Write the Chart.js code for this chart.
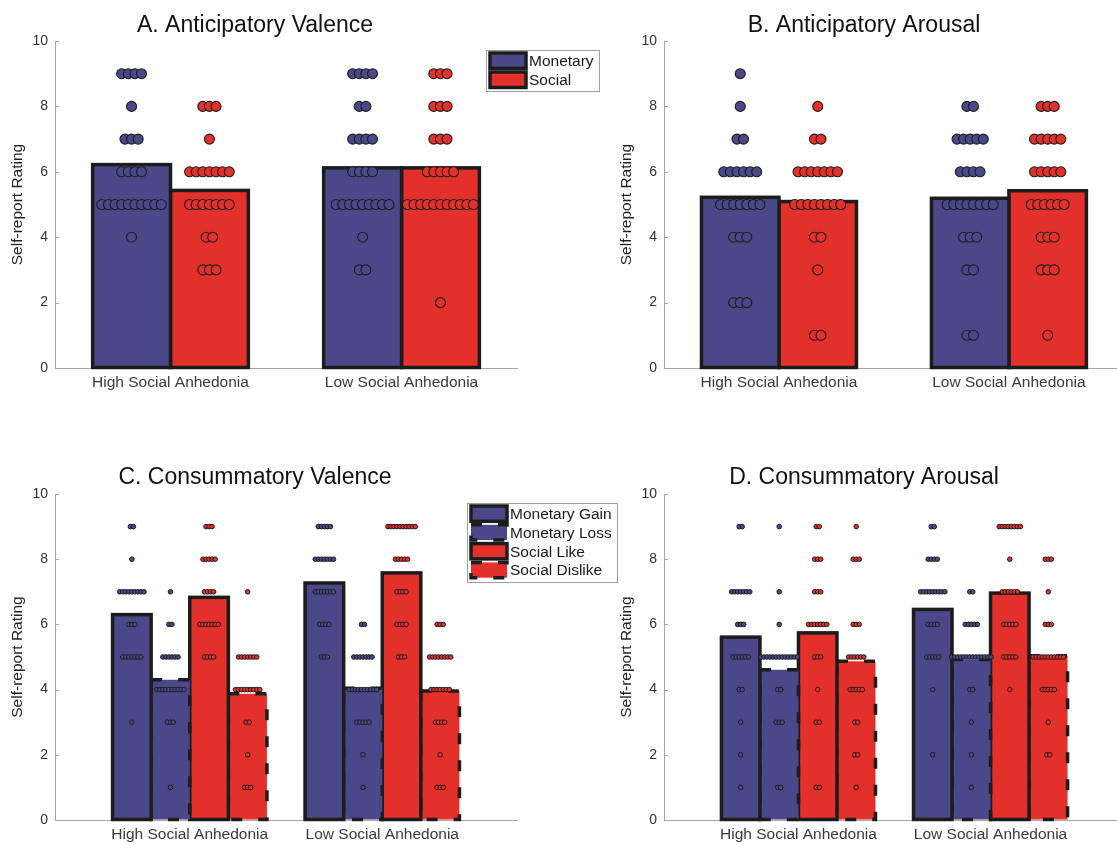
<!DOCTYPE html>
<html>
<head>
<meta charset="utf-8">
<script src="https://cdn.jsdelivr.net/npm/chart.js@4.4.1/dist/chart.umd.min.js"></script>
<style>
  html, body { margin: 0; padding: 0; background: #fff; overflow: hidden; }
  body { width: 1117px; height: 845px; position: relative; }
  canvas { position: absolute; }
</style>
</head>
<body>
<canvas id="panelA" width="605" height="420" style="left:0;top:0"></canvas>
<canvas id="panelB" width="521" height="420" style="left:609px;top:0"></canvas>
<canvas id="panelC" width="625" height="395" style="left:0;top:450px"></canvas>
<canvas id="panelD" width="521" height="395" style="left:609px;top:450px"></canvas>
<script>
const groups = ['High Social Anhedonia', 'Low Social Anhedonia'];
const yTicks = [0, 2, 4, 6, 8, 10];

// A. anticipatory valence: bar means, then [rating, count] rows per group
const antValMonetary = [6.22, 6.12];
const antValSocial = [5.43, 6.12];
const antValMonetaryDots = [
  [[9, 4], [8, 1], [7, 3], [6, 4], [5, 10], [4, 1]],
  [[9, 4], [8, 2], [7, 4], [6, 4], [5, 9], [4, 1], [3, 2]]
];
const antValSocialDots = [
  [[8, 3], [7, 1], [6, 7], [5, 7], [4, 2], [3, 3]],
  [[9, 3], [8, 3], [7, 3], [6, 5], [5, 11], [2, 1]]
];

// B. anticipatory arousal
const antArMonetary = [5.22, 5.19];
const antArSocial = [5.09, 5.42];
const antArMonetaryDots = [
  [[9, 1], [8, 1], [7, 2], [6, 6], [5, 7], [4, 3], [2, 3]],
  [[8, 2], [7, 5], [6, 4], [5, 8], [4, 3], [3, 2], [1, 2]]
];
const antArSocialDots = [
  [[8, 1], [7, 2], [6, 7], [5, 8], [4, 2], [3, 1], [1, 2]],
  [[8, 3], [7, 5], [6, 5], [5, 6], [4, 3], [3, 3], [1, 1]]
];

// C. consummatory valence
const conValGain = [6.30, 7.27];
const conValLoss = [4.30, 4.04];
const conValLike = [6.83, 7.58];
const conValDislike = [3.87, 3.96];
const conValGainDots = [
  [[9, 2], [8, 1], [7, 9], [6, 3], [5, 7], [3, 1]],
  [[9, 5], [8, 7], [7, 7], [6, 4], [5, 3]]
];
const conValLossDots = [
  [[7, 1], [6, 2], [5, 6], [4, 10], [3, 3], [1, 1]],
  [[6, 2], [5, 7], [4, 10], [3, 5], [2, 1], [1, 1]]
];
const conValLikeDots = [
  [[9, 3], [8, 5], [7, 4], [6, 7], [5, 4]],
  [[9, 10], [8, 5], [7, 4], [6, 4], [5, 3]]
];
const conValDislikeDots = [
  [[7, 1], [5, 7], [4, 9], [3, 2], [2, 1], [1, 3]],
  [[6, 3], [5, 8], [4, 7], [3, 4], [2, 1], [1, 3]]
];

// D. consummatory arousal
const conArGain = [5.61, 6.46];
const conArLoss = [4.61, 4.92];
const conArLike = [5.74, 6.96];
const conArDislike = [4.87, 5.04];
const conArGainDots = [
  [[9, 2], [7, 7], [6, 3], [5, 6], [4, 2], [3, 1], [2, 1], [1, 1]],
  [[9, 2], [8, 4], [7, 9], [6, 4], [5, 5], [4, 1], [2, 1]]
];
const conArLossDots = [
  [[9, 1], [7, 1], [6, 1], [5, 13], [4, 2], [3, 3], [1, 2]],
  [[7, 2], [6, 5], [5, 14], [4, 2], [3, 1], [2, 1], [1, 1]]
];
const conArLikeDots = [
  [[9, 2], [8, 3], [7, 3], [6, 7], [5, 3], [4, 1], [3, 2], [1, 2]],
  [[9, 8], [8, 1], [7, 6], [6, 5], [5, 5], [4, 1]]
];
const conArDislikeDots = [
  [[9, 1], [8, 3], [6, 3], [5, 6], [4, 5], [3, 2], [2, 2], [1, 1]],
  [[8, 3], [7, 1], [6, 3], [5, 11], [4, 5], [3, 1], [2, 2]]
];

const BLUE = '#4b4889';
const RED = '#e3302a';
const EDGE = '#1c1c1c';
const AXIS = '#a6a6a6';
const FONT = '"Liberation Sans", Arial, Helvetica, sans-serif';

Chart.defaults.font.family = FONT;
Chart.defaults.color = '#333';

// one row of dots per rating, spread sideways around the bar centre
function dots(counts, offset, step) {
  const pts = [];
  counts.forEach((rows, g) => {
    rows.forEach(([rating, n]) => {
      for (let k = 0; k < n; k++) {
        pts.push({ x: g + 1 + offset + (k - (n - 1) / 2) * step, y: rating });
      }
    });
  });
  return pts;
}

// bars get their outline here so that dashed edges are possible
const barOutline = {
  id: 'barOutline',
  afterDatasetDraw(chart, args) {
    if (args.meta.type !== 'bar') return;
    const ds = chart.data.datasets[args.index];
    const ctx = chart.ctx;
    ctx.save();
    ctx.lineWidth = 3.5;
    ctx.strokeStyle = EDGE;
    ctx.setLineDash(ds.dashed ? [11, 16] : []);
    args.meta.data.forEach(bar => {
      const { x, y, base, width } = bar.getProps(['x', 'y', 'base', 'width'], true);
      ctx.strokeRect(x - width / 2, y, width, base - y);
    });
    ctx.restore();
  }
};

const innerTicks = {
  id: 'innerTicks',
  beforeDatasetsDraw(chart) {
    const ys = chart.scales.y, a = chart.chartArea, ctx = chart.ctx;
    ctx.save();
    ctx.strokeStyle = AXIS;
    ctx.lineWidth = 1;
    ys.ticks.forEach(t => {
      const py = Math.round(ys.getPixelForValue(t.value)) + 0.5;
      ctx.beginPath();
      ctx.moveTo(a.left, py);
      ctx.lineTo(a.left + 4, py);
      ctx.stroke();
    });
    ctx.restore();
  }
};

const panelTitle = {
  id: 'panelTitle',
  afterDraw(chart, args, opts) {
    const ctx = chart.ctx;
    ctx.save();
    ctx.font = '23px ' + FONT;
    ctx.fillStyle = '#111';
    ctx.textAlign = 'center';
    ctx.textBaseline = 'alphabetic';
    ctx.fillText(opts.text, opts.x, opts.y);
    ctx.restore();
  }
};

const boxLegend = {
  id: 'boxLegend',
  afterDraw(chart, args, opts) {
    if (!opts.items) return;
    const ctx = chart.ctx;
    ctx.save();
    ctx.fillStyle = '#fff';
    ctx.fillRect(opts.x, opts.y, opts.w, opts.h);
    ctx.strokeStyle = '#a0a0a0';
    ctx.lineWidth = 1;
    ctx.strokeRect(opts.x + 0.5, opts.y + 0.5, opts.w, opts.h);
    ctx.font = '15.5px ' + FONT;
    ctx.textBaseline = 'middle';
    opts.items.forEach((it, i) => {
      const top = opts.y + 3 + i * opts.row;
      const sx = opts.x + 4;
      ctx.fillStyle = it.color;
      ctx.fillRect(sx, top, 36, opts.row - 3.5);
      ctx.strokeStyle = EDGE;
      ctx.lineWidth = 3.5;
      ctx.setLineDash(it.dashed ? [11, 16] : []);
      ctx.strokeRect(sx, top, 36, opts.row - 3.5);
      ctx.setLineDash([]);
      ctx.fillStyle = '#1a1a1a';
      ctx.fillText(it.label, sx + 39, top + (opts.row - 3.5) / 2 + 1);
    });
    ctx.restore();
  }
};

function makePanel(id, p) {
  const canvas = document.getElementById(id);
  const H = canvas.height;
  const n = p.series.length;
  const bars = p.series.map(s => ({
    type: 'bar',
    label: s.label,
    dashed: s.dashed,
    data: s.means.map((v, g) => ({ x: g + 1, y: v })),
    backgroundColor: s.color,
    borderWidth: 0,
    categoryPercentage: p.catPct,
    barPercentage: 1,
    order: 1
  }));
  const scatters = p.series.map((s, i) => ({
    type: 'scatter',
    label: s.label + ' ratings',
    data: dots(s.counts, (i - (n - 1) / 2) * p.catPct / n, p.dotStep),
    pointRadius: p.dotRadius,
    pointBorderWidth: p.dotBorder,
    pointBackgroundColor: s.color,
    pointBorderColor: EDGE,
    order: 0
  }));
  new Chart(canvas, {
    type: 'bar',
    data: { datasets: bars.concat(scatters) },
    options: {
      responsive: false,
      animation: false,
      events: [],
      layout: { padding: { top: p.top, right: p.right, left: 0, bottom: 0 } },
      plugins: {
        legend: { display: false },
        tooltip: { enabled: false },
        panelTitle: { text: p.title, x: 255, y: p.titleY },
        boxLegend: p.legend ? Object.assign({
          items: p.series.map(s => ({ label: s.label, color: s.color, dashed: s.dashed }))
        }, p.legend) : {}
      },
      scales: {
        x: {
          type: 'linear',
          min: p.xMin,
          max: p.xMax,
          offset: false,
          grid: { display: true, drawOnChartArea: false, drawTicks: false, offset: false },
          border: { color: AXIS, width: 1 },
          afterBuildTicks: s => { s.ticks = groups.map((g, i) => ({ value: i + 1 })); },
          afterFit: s => { s.height = H - p.bottom; },
          ticks: {
            callback: v => groups[v - 1],
            font: { size: 15.5 },
            color: '#3a3a3a',
            padding: 5,
            maxRotation: 0,
            autoSkip: false
          }
        },
        y: {
          min: 0,
          max: 10,
          grid: { display: true, drawOnChartArea: false, drawTicks: false },
          border: { color: AXIS, width: 1 },
          afterBuildTicks: s => { s.ticks = yTicks.map(v => ({ value: v })); },
          afterFit: s => { s.width = 55; },
          ticks: { font: { size: 14 }, color: '#333', padding: 7 },
          title: {
            display: true,
            text: 'Self-report Rating',
            font: { size: 15.5 },
            color: '#222',
            padding: { top: 8, bottom: 0 }
          }
        }
      }
    },
    plugins: [innerTicks, barOutline, panelTitle, boxLegend]
  });
}

const bigDots = { catPct: 0.674, xMin: 0.5, xMax: 2.5, dotStep: 0.0286, dotRadius: 5, dotBorder: 1.1 };
const smallDots = { catPct: 0.802, xMin: 0.3, xMax: 2.7, dotStep: 0.0158, dotRadius: 2.3, dotBorder: 1 };

makePanel('panelA', Object.assign({
  title: 'A. Anticipatory Valence', titleY: 32, top: 41, bottom: 368, right: 88,
  legend: { x: 486, y: 50, w: 113, h: 41, row: 19 },
  series: [
    { label: 'Monetary', means: antValMonetary, counts: antValMonetaryDots, color: BLUE, dashed: false },
    { label: 'Social', means: antValSocial, counts: antValSocialDots, color: RED, dashed: false }
  ]
}, bigDots));

makePanel('panelB', Object.assign({
  title: 'B. Anticipatory Arousal', titleY: 32, top: 41, bottom: 368, right: 5,
  series: [
    { label: 'Monetary', means: antArMonetary, counts: antArMonetaryDots, color: BLUE, dashed: false },
    { label: 'Social', means: antArSocial, counts: antArSocialDots, color: RED, dashed: false }
  ]
}, bigDots));

makePanel('panelC', Object.assign({
  title: 'C. Consummatory Valence', titleY: 34, top: 44, bottom: 370, right: 108,
  legend: { x: 467, y: 53, w: 150, h: 79, row: 18.8 },
  series: [
    { label: 'Monetary Gain', means: conValGain, counts: conValGainDots, color: BLUE, dashed: false },
    { label: 'Monetary Loss', means: conValLoss, counts: conValLossDots, color: BLUE, dashed: true },
    { label: 'Social Like', means: conValLike, counts: conValLikeDots, color: RED, dashed: false },
    { label: 'Social Dislike', means: conValDislike, counts: conValDislikeDots, color: RED, dashed: true }
  ]
}, smallDots));

makePanel('panelD', Object.assign({
  title: 'D. Consummatory Arousal', titleY: 34, top: 44, bottom: 370, right: 5,
  series: [
    { label: 'Monetary Gain', means: conArGain, counts: conArGainDots, color: BLUE, dashed: false },
    { label: 'Monetary Loss', means: conArLoss, counts: conArLossDots, color: BLUE, dashed: true },
    { label: 'Social Like', means: conArLike, counts: conArLikeDots, color: RED, dashed: false },
    { label: 'Social Dislike', means: conArDislike, counts: conArDislikeDots, color: RED, dashed: true }
  ]
}, smallDots));
</script>
</body>
</html>
